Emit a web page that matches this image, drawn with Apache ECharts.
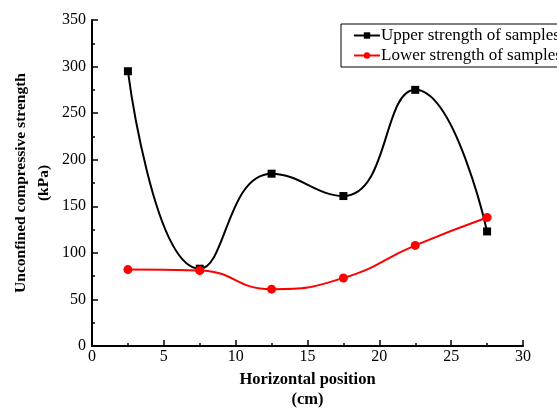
<!DOCTYPE html>
<html><head><meta charset="utf-8">
<script src="https://cdn.jsdelivr.net/npm/echarts@6/dist/echarts.min.js"></script>
<style>html,body{margin:0;padding:0;background:#fff}#c{width:557px;height:408px}</style>
</head><body><div id="c"></div>
<script>
const positions = [2.5, 7.5, 12.5, 17.5, 22.5, 27.5];
const upperStrength = [295, 83, 185, 161, 275, 123];
const lowerStrength = [82, 81, 61, 73, 108, 138];
const xTicks = [0, 5, 10, 15, 20, 25, 30];
const yTicks = [0, 50, 100, 150, 200, 250, 300, 350];

const font = '"Liberation Serif","Times New Roman",serif';
const chart = echarts.init(document.getElementById('c'));
chart.setOption({
  animation: false,
  textStyle: {fontFamily: font},
  grid: {left: 92, right: 34, top: 20, bottom: 62, outerBoundsMode: 'none', containLabel: false},
  legend: {
    orient: 'vertical', left: 341, top: 24, right: 'auto',
    borderColor: '#000', borderWidth: 1, padding: [3, 40, 3, 12],
    itemGap: 3, itemWidth: 26, itemHeight: 8,
    textStyle: {fontFamily: font, fontSize: 17, color: '#000', padding: [0, 0, 0, -4]},
    data: ['Upper strength of samples', 'Lower strength of samples']
  },
  xAxis: {
    type: 'value', min: xTicks[0], max: xTicks[xTicks.length - 1], interval: 5,
    name: 'Horizontal position\n(cm)', nameLocation: 'middle', nameGap: 24,
    nameTextStyle: {fontFamily: font, fontSize: 16.5, fontWeight: 'bold', color: '#000', lineHeight: 20},
    axisLine: {lineStyle: {color: '#000', width: 2}},
    axisTick: {inside: true, length: 6, lineStyle: {color: '#000', width: 1.5}},
    minorTick: {show: true, splitNumber: 2, length: 3, lineStyle: {color: '#000', width: 1.5}},
    axisLabel: {fontFamily: font, fontSize: 16, color: '#000', margin: 3},
    splitLine: {show: false}
  },
  yAxis: {
    type: 'value', min: yTicks[0], max: yTicks[yTicks.length - 1], interval: 50,
    name: 'Unconfined compressive strength\n(kPa)', nameLocation: 'middle', nameGap: 37,
    nameMoveOverlap: false,
    nameTextStyle: {fontFamily: font, fontSize: 15.5, fontWeight: 'bold', color: '#000', lineHeight: 23},
    axisLine: {show: true, lineStyle: {color: '#000', width: 2}},
    axisTick: {show: true, inside: true, length: 6, lineStyle: {color: '#000', width: 1.5}},
    minorTick: {show: true, splitNumber: 2, length: 3, lineStyle: {color: '#000', width: 1.5}},
    axisLabel: {fontFamily: font, fontSize: 16, color: '#000', margin: 6},
    splitLine: {show: false}
  },
  series: [
    {
      name: 'Upper strength of samples', type: 'line', smooth: 0.5,
      data: positions.map((x, i) => [x, upperStrength[i]]),
      symbol: 'rect', symbolSize: 8,
      itemStyle: {color: '#000'}, lineStyle: {color: '#000', width: 2}
    },
    {
      name: 'Lower strength of samples', type: 'line', smooth: 0.5,
      data: positions.map((x, i) => [x, lowerStrength[i]]),
      symbol: 'circle', symbolSize: 9,
      itemStyle: {color: '#ff0000'}, lineStyle: {color: '#ff0000', width: 2}
    }
  ]
});
</script></body></html>
